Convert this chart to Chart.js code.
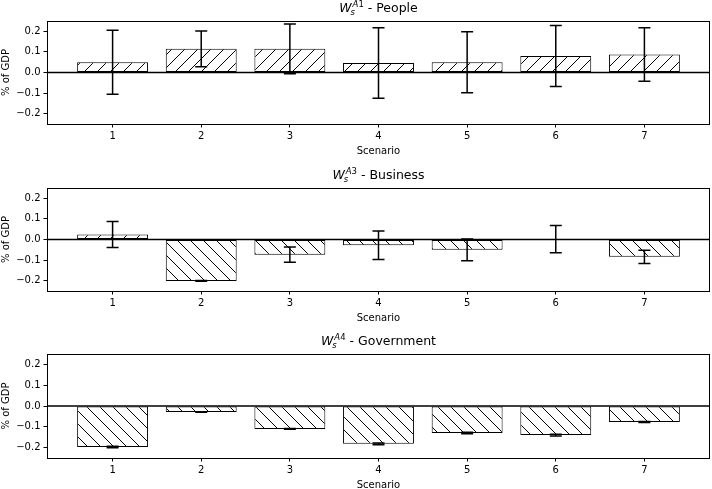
<!DOCTYPE html>
<html>
<head>
<meta charset="utf-8">
<title>Scenario bars</title>
<script src="https://cdn.jsdelivr.net/npm/chart.js@4.4.1/dist/chart.umd.min.js"></script>
<style>
  body { margin: 0; background: #fff; width: 712px; height: 489px; overflow: hidden; position: relative; }
  canvas { position: absolute; left: 0; }
</style>
</head>
<body>
<canvas id="chartPeople" width="712" height="163" style="top:0px"></canvas>
<canvas id="chartBusiness" width="712" height="163" style="top:167px"></canvas>
<canvas id="chartGovernment" width="712" height="165" style="top:333px"></canvas>
<script>
const scenarios = [1, 2, 3, 4, 5, 6, 7];
const yTickValues = [-0.2, -0.1, 0, 0.1, 0.2];

const peopleValues = [0.050, 0.115, 0.115, 0.046, 0.050, 0.080, 0.087];
const peopleErrors = [0.155, 0.087, 0.121, 0.171, 0.148, 0.148, 0.130];

const businessValues = [0.024, -0.201, -0.074, -0.028, -0.050, 0.002, -0.084];
const businessErrors = [0.063, 0.002, 0.037, 0.069, 0.053, 0.066, 0.032];

const governmentValues = [-0.197, -0.029, -0.110, -0.182, -0.130, -0.140, -0.077];
const governmentErrors = [0.004, 0.001, 0.002, 0.004, 0.004, 0.004, 0.002];

Chart.defaults.font.family = "'DejaVu Sans', sans-serif";
Chart.defaults.font.size = 10;
Chart.defaults.color = "#000";

// hatch patterns like matplotlib '/' and '\'
function makeHatch(forward) {
    const s = 13;
    const c = document.createElement("canvas");
    c.width = s; c.height = s;
    const g = c.getContext("2d");
    g.fillStyle = "#fff";
    g.fillRect(0, 0, s, s);
    g.strokeStyle = "#000";
    g.lineWidth = 1;
    g.beginPath();
    if (forward) {
        g.moveTo(0, s); g.lineTo(s, 0);
        g.moveTo(-1, 1); g.lineTo(1, -1);
        g.moveTo(s - 1, s + 1); g.lineTo(s + 1, s - 1);
    } else {
        g.moveTo(0, 0); g.lineTo(s, s);
        g.moveTo(-1, s - 1); g.lineTo(1, s + 1);
        g.moveTo(s - 1, -1); g.lineTo(s + 1, 1);
    }
    g.stroke();
    return g.createPattern(c, "repeat");
}
const slashHatch = makeHatch(true);
const backHatch = makeHatch(false);

const errorBarPlugin = {
    id: "errorBars",
    afterDatasetsDraw(chart) {
        const { ctx, chartArea, scales: { x, y } } = chart;
        const ds = chart.data.datasets[0];
        ctx.save();
        // zero line
        const y0 = y.getPixelForValue(0);
        ctx.strokeStyle = "#000";
        ctx.lineWidth = 1.5;
        ctx.beginPath();
        ctx.moveTo(chartArea.left, y0);
        ctx.lineTo(chartArea.right, y0);
        ctx.stroke();
        // error bars
        ds.data.forEach((pt, i) => {
            const err = ds.errors[i];
            const px = x.getPixelForValue(pt.x);
            const top = y.getPixelForValue(pt.y + err);
            const bot = y.getPixelForValue(pt.y - err);
            ctx.beginPath();
            ctx.moveTo(px, top); ctx.lineTo(px, bot);
            ctx.moveTo(px - 6, top); ctx.lineTo(px + 6, top);
            ctx.moveTo(px - 6, bot); ctx.lineTo(px + 6, bot);
            ctx.stroke();
        });
        ctx.restore();
    },
    afterDraw(chart) {
        const { ctx, chartArea } = chart;
        ctx.save();
        ctx.strokeStyle = "#000";
        ctx.lineWidth = 1;
        ctx.strokeRect(Math.round(chartArea.left) + 0.5, Math.round(chartArea.top) + 0.5,
            Math.round(chartArea.right - chartArea.left) - 1, Math.round(chartArea.bottom - chartArea.top));
        ctx.restore();
    }
};

// title like $W_s^{A1}$ - People
function mathTitle(supLetter, supDigit, label) {
    return {
        id: "mathTitle",
        afterDraw(chart) {
            const { ctx, chartArea } = chart;
            const fam = "'DejaVu Sans', sans-serif";
            const base = chartArea.top - 9;
            ctx.save();
            ctx.fillStyle = "#000";
            ctx.textBaseline = "alphabetic";
            ctx.font = "italic 12.5px " + fam;
            const wW = ctx.measureText("W").width;
            ctx.font = "italic 8.5px " + fam;
            const wA = ctx.measureText(supLetter).width;
            ctx.font = "8.5px " + fam;
            const wD = ctx.measureText(supDigit).width;
            ctx.font = "12.5px " + fam;
            const wL = ctx.measureText(label).width;
            const total = wW + 1 + wA + wD + wL;
            let cx = (chartArea.left + chartArea.right) / 2 - total / 2;
            ctx.font = "italic 12.5px " + fam;
            ctx.fillText("W", cx, base);
            cx += wW;
            ctx.font = "italic 8.5px " + fam;
            ctx.fillText("s", cx - 1, base + 3);
            ctx.fillText(supLetter, cx + 1, base - 5);
            ctx.font = "8.5px " + fam;
            ctx.fillText(supDigit, cx + 1 + wA, base - 5);
            cx += 1 + wA + wD;
            ctx.font = "12.5px " + fam;
            ctx.fillText(label, cx, base);
            ctx.restore();
        }
    };
}

function makeChart(id, values, errors, supLetter, supDigit, label, xAxisHeight) {
    const ctx = document.getElementById(id).getContext("2d");
    return new Chart(ctx, {
        type: "bar",
        data: {
            datasets: [{
                data: scenarios.map((s, i) => ({ x: s, y: values[i] })),
                errors: errors,
                backgroundColor: values.map(v => v >= 0 ? slashHatch : backHatch),
                borderColor: "#000",
                borderWidth: 1,
                borderSkipped: false,
                categoryPercentage: 0.8,
                barPercentage: 1.0
            }]
        },
        options: {
            responsive: false,
            animation: false,
            devicePixelRatio: 1,
            layout: { padding: { top: 21, right: 2, left: 0, bottom: 0 } },
            plugins: {
                legend: { display: false },
                tooltip: { enabled: false },
                title: { display: false }
            },
            scales: {
                x: {
                    type: "linear",
                    offset: false,
                    min: 0.26,
                    max: 7.74,
                    afterBuildTicks: axis => { axis.ticks = scenarios.map(v => ({ value: v })); },
                    afterFit: axis => { axis.height = xAxisHeight; },
                    ticks: { padding: 3, maxRotation: 0, callback: v => String(v) },
                    grid: { display: true, drawOnChartArea: false, offset: false, tickLength: 3.5, color: "#000" },
                    border: { display: false },
                    title: { display: true, text: "Scenario", padding: { top: 0, bottom: xAxisHeight - 33 } }
                },
                y: {
                    min: -0.25,
                    max: 0.25,
                    afterBuildTicks: axis => { axis.ticks = yTickValues.map(v => ({ value: v })); },
                    afterFit: axis => { axis.width = 47; },
                    ticks: {
                        padding: 3,
                        callback: v => (v < -1e-9 ? "\u2212" : "") + Math.abs(v).toFixed(1)
                    },
                    grid: { display: true, drawOnChartArea: false, tickLength: 3.5, color: "#000" },
                    border: { display: false },
                    title: { display: true, text: "% of GDP", padding: { top: 0, bottom: 0 } }
                }
            }
        },
        plugins: [errorBarPlugin, mathTitle(supLetter, supDigit, label)]
    });
}

makeChart("chartPeople", peopleValues, peopleErrors, "A", "1", " - People", 39);
makeChart("chartBusiness", businessValues, businessErrors, "A", "3", " - Business", 39);
makeChart("chartGovernment", governmentValues, governmentErrors, "A", "4", " - Government", 40);
</script>
</body>
</html>
